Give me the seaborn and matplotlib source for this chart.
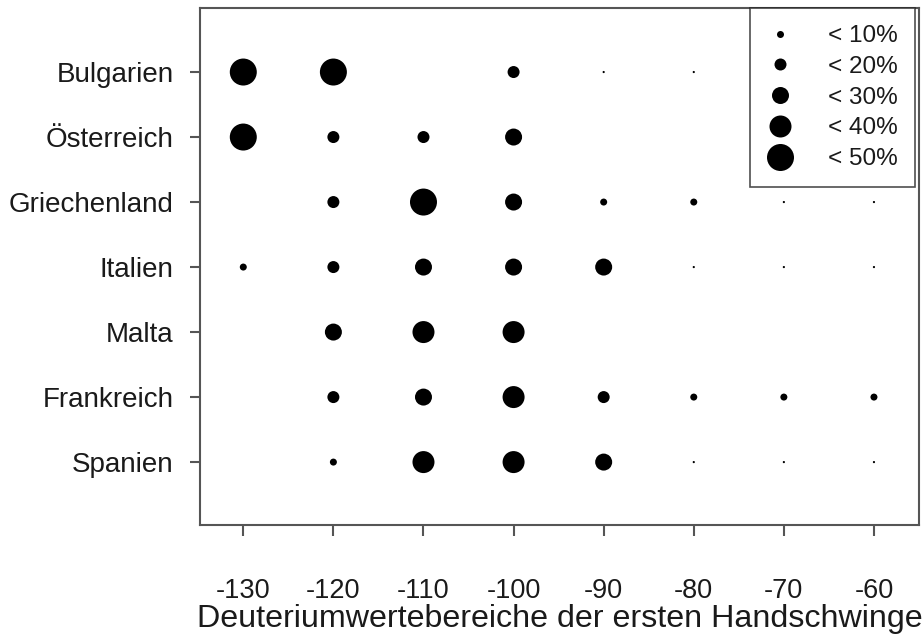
import matplotlib
matplotlib.use("Agg")
import matplotlib.pyplot as plt
from matplotlib.lines import Line2D
import seaborn as sns
import pandas as pd

# Deuterium value bins (x axis) and the countries (rows, top to bottom)
bereiche = [-130, -120, -110, -100, -90, -80, -70, -60]
laender = ["Bulgarien", "Österreich", "Griechenland", "Italien",
           "Malta", "Frankreich", "Spanien"]

# Share class per bin: upper bound in percent (0 = trace, None = no birds)
bulgarien    = [50, 50, None, 20, 0, 0, None, None]
oesterreich  = [50, 20, 20, 30, None, None, None, None]
griechenland = [None, 20, 50, 30, 10, 10, 0, 0]
italien      = [10, 20, 30, 30, 30, 0, 0, 0]
malta        = [None, 30, 40, 40, None, None, None, None]
frankreich   = [None, 20, 30, 40, 20, 10, 10, 10]
spanien      = [None, 10, 40, 40, 30, 0, 0, 0]

klassen = [10, 20, 30, 40, 50]
klassen_labels = ["< 10%", "< 20%", "< 30%", "< 40%", "< 50%"]

werte = [bulgarien, oesterreich, griechenland, italien, malta, frankreich, spanien]

rows = []
for land, reihe in zip(laender, werte):
    for x, k in zip(bereiche, reihe):
        if k is not None:
            rows.append({"bereich": x, "land": land, "klasse": k})
df = pd.DataFrame(rows)

# marker diameters in pixels (figure at 100 dpi) -> area in pt^2
durchmesser = {0: 2.2, 10: 7, 20: 12, 30: 17, 40: 22, 50: 27}
flaechen = {k: (d * 0.72) ** 2 for k, d in durchmesser.items()}

sns.set_style("white")
plt.rcParams["font.family"] = ["Liberation Sans", "DejaVu Sans"]
textfarbe = "#1a1a1a"
rahmen = "#555555"

fig, ax = plt.subplots(figsize=(9.24, 6.35), dpi=100)
fig.subplots_adjust(left=0.2165, right=0.9946, top=0.9874, bottom=0.173)

sns.scatterplot(data=df, x="bereich", y="land", size="klasse", sizes=flaechen,
                color="black", linewidth=0, legend=False, ax=ax)

ax.set_xlim(-134.8, -55.0)
ax.set_ylim(6.97, -0.985)
ax.set_xticks(bereiche)
ax.set_xticklabels([str(b) for b in bereiche])
ax.set_ylabel("")
ax.set_xlabel("Deuteriumwertebereiche der ersten Handschwinge",
              fontsize=23.2, color=textfarbe, labelpad=0)

for s in ax.spines.values():
    s.set_visible(True)
    s.set_color(rahmen)
    s.set_linewidth(1.5)

ax.tick_params(axis="x", direction="out", length=8, width=1.5, color=rahmen,
               labelsize=19.5, labelcolor=textfarbe, pad=30, bottom=True)
ax.tick_params(axis="y", direction="out", length=7, width=1.5, color=rahmen,
               labelsize=20, labelcolor=textfarbe, pad=12, left=True)

handles = [Line2D([], [], marker="o", linestyle="", color="black",
                  markeredgewidth=0, markersize=durchmesser[k] * 0.72)
           for k in klassen]
leg = ax.legend(handles, klassen_labels, loc="upper right",
                bbox_to_anchor=(0.9944, 1.0), borderaxespad=0,
                fontsize=17.5, frameon=True, fancybox=False,
                handlelength=1.0, handletextpad=1.5, labelspacing=0.36,
                borderpad=0.7)
leg.get_frame().set_edgecolor("#222222")
leg.get_frame().set_linewidth(1.2)
for t in leg.get_texts():
    t.set_color(textfarbe)

fig.savefig("out.png", dpi=100)
